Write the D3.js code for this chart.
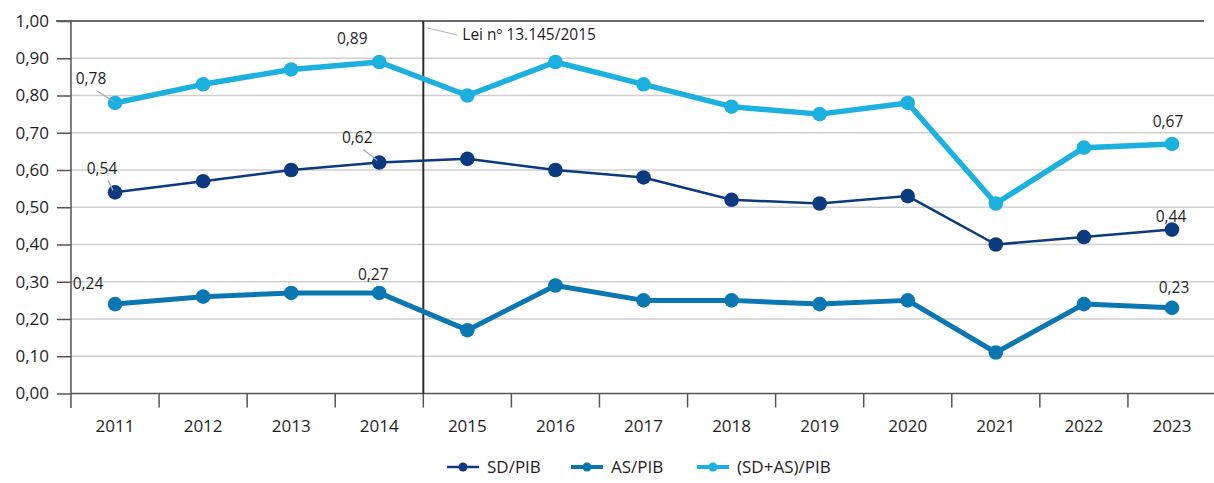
<!DOCTYPE html>
<html><head><meta charset="utf-8">
<script src="https://cdn.jsdelivr.net/npm/d3@7"></script>
<style>body{margin:0;background:#fff}svg{display:block;font-family:"Open Sans",sans-serif}</style>
</head><body><svg id="c" width="1214" height="483"></svg>
<script>
const years = ["2011","2012","2013","2014","2015","2016","2017","2018","2019","2020","2021","2022","2023"];
const sdPib = [0.54,0.57,0.60,0.62,0.63,0.60,0.58,0.52,0.51,0.53,0.40,0.42,0.44];
const asPib = [0.24,0.26,0.27,0.27,0.17,0.29,0.25,0.25,0.24,0.25,0.11,0.24,0.23];
const sdAsPib = [0.78,0.83,0.87,0.89,0.80,0.89,0.83,0.77,0.75,0.78,0.51,0.66,0.67];
const yTicks = [0,0.1,0.2,0.3,0.4,0.5,0.6,0.7,0.8,0.9,1.0];
const seriesNames = ["SD/PIB","AS/PIB","(SD+AS)/PIB"];
const lawYear = "2015";
const lawLabel = "Lei nº 13.145/2015";

const colors = ["#0d3a7e","#0a77b3","#1cb0df"];
const widths = [2.5,5,5.5];
const fmt = v => d3.format(".2f")(v).replace(".", ",");

const svg = d3.select("#c");
const x = d3.scaleBand().domain(years).range([71, 1216]);
const y = d3.scaleLinear().domain([0,1]).range([393.5, 21]);
const cx = d => x(d) + x.bandwidth()/2;

// gridlines
svg.append("g").selectAll("line").data(yTicks.filter(t=>t>0 && t<1)).join("line")
  .attr("x1",71).attr("x2",1214).attr("y1",d=>y(d)).attr("y2",d=>y(d))
  .attr("stroke","#cfcfcf").attr("stroke-width",1.5);
// top border line
svg.append("line").attr("x1",56).attr("x2",1204).attr("y1",y(1)).attr("y2",y(1))
  .attr("stroke","#3a3a3a").attr("stroke-width",1.5);

// y axis
const yAxis = d3.axisLeft(y).tickValues(yTicks).tickFormat(fmt).tickSize(14).tickPadding(8);
const gy = svg.append("g").attr("transform","translate(71,0)").call(yAxis);
gy.select(".domain").remove();
gy.append("line").attr("x1",0).attr("x2",0).attr("y1",y(1)).attr("y2",408).attr("stroke","#555").attr("stroke-width",1.5);
gy.selectAll(".tick line").attr("stroke","#555").attr("stroke-width",1.5);
gy.selectAll(".tick text").attr("font-size",17).attr("fill","#1e1e1e").attr("font-family","Open Sans");

// x axis
const gx = svg.append("g").attr("transform",`translate(0,${y(0)})`);
gx.append("line").attr("x1",71).attr("x2",1214).attr("stroke","#555").attr("stroke-width",1.5);
gx.selectAll("line.tk").data(years.slice(1)).join("line").attr("class","tk")
  .attr("x1",d=>x(d)).attr("x2",d=>x(d)).attr("y1",0).attr("y2",14)
  .attr("stroke","#555").attr("stroke-width",1.5);
gx.selectAll("text").data(years).join("text")
  .attr("x",d=>cx(d)).attr("y",33).attr("dy","0.35em").attr("text-anchor","middle")
  .attr("font-size",17).attr("fill","#1e1e1e").text(d=>d);

// law line
const lx = x(lawYear);
svg.append("line").attr("x1",lx).attr("x2",lx).attr("y1",y(1)).attr("y2",y(0))
  .attr("stroke","#2b2b2b").attr("stroke-width",2);
svg.append("line").attr("x1",lx+4).attr("y1",28).attr("x2",lx+34).attr("y2",35)
  .attr("stroke","#b5b5b5").attr("stroke-width",1);
svg.append("text").attr("x",lx+39).attr("y",35).attr("dy","0.35em")
  .attr("font-size",15.5).attr("fill","#1e1e1e").text(lawLabel);

// series
const data = [sdPib, asPib, sdAsPib];
const line = d3.line().x((d,i)=>cx(years[i])).y(d=>y(d));
data.forEach((vals,k)=>{
  svg.append("path").datum(vals).attr("d",line).attr("fill","none")
    .attr("stroke",colors[k]).attr("stroke-width",widths[k])
    .attr("stroke-linejoin","round").attr("stroke-linecap","round");
  svg.append("g").selectAll("circle").data(vals).join("circle")
    .attr("cx",(d,i)=>cx(years[i])).attr("cy",d=>y(d)).attr("r",7.3).attr("fill",colors[k]);
});

// annotations: [series, index, dx, dy, leader]
const annots = [
  [2,0,-24,-24,true],[2,3,-27,-23,false],[2,12,-4,-22,false],
  [0,0,-13,-24,true],[0,3,-22,-25,true],[0,12,-1,-13,false],
  [1,0,-27,-21,false],[1,3,-6,-18,false],[1,12,2,-20,false]
];
annots.forEach(([s,i,dx,dy,leader])=>{
  const px = cx(years[i]), py = y(data[s][i]);
  if(leader){
    svg.append("line").attr("x1",px+dx+6).attr("y1",py+dy+12).attr("x2",px-2).attr("y2",py-2)
      .attr("stroke","#a8a8a8").attr("stroke-width",1.3);
  }
  svg.append("text").attr("x",px+dx).attr("y",py+dy).attr("dy","0.35em").attr("text-anchor","middle")
    .attr("font-size",15.5).attr("fill","#1e1e1e").text(fmt(data[s][i]));
});

// legend
const legX = [447,571,697];
const legY = 467;
seriesNames.forEach((n,k)=>{
  const g = svg.append("g").attr("transform",`translate(${legX[k]},${legY})`);
  g.append("line").attr("x1",0).attr("x2",32).attr("stroke",colors[k]).attr("stroke-width",k===0?2.5:4);
  g.append("circle").attr("cx",16).attr("r",4.5).attr("fill",colors[k]);
  g.append("text").attr("x",40).attr("dy","0.35em").attr("font-size",17).attr("fill","#1e1e1e").text(n);
});
</script></body></html>
